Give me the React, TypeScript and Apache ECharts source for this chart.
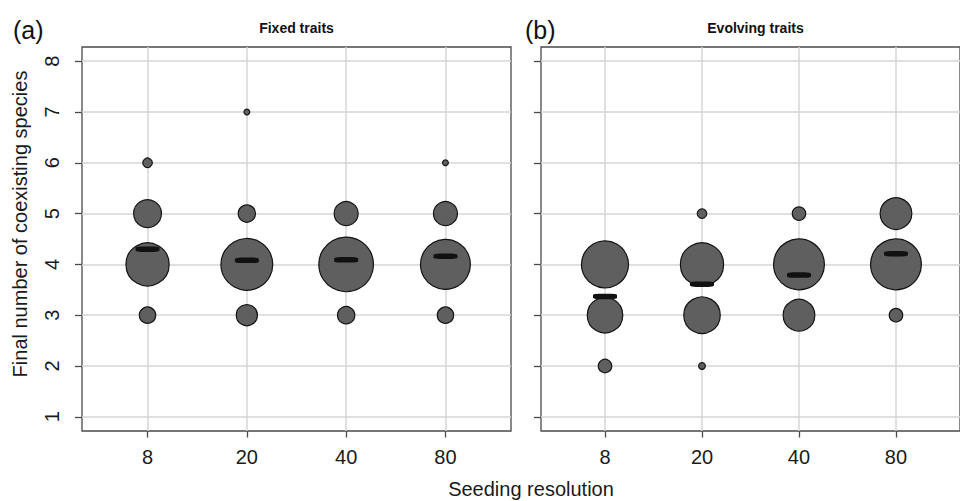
import React, { useEffect, useRef } from 'react';
import * as echarts from 'echarts';

// ---- data ----
const resolutions = ['8', '20', '40', '80'];
const speciesTicks = [1, 2, 3, 4, 5, 6, 7, 8];
const resolutionPositions = [1, 2, 3, 4];

// (a) Fixed traits: observed final species numbers and share of runs (%) per resolution
const fixedSpecies = [[6, 5, 4, 3], [7, 5, 4, 3], [5, 4, 3], [6, 5, 4, 3]];
const fixedShare = [[10, 29, 45, 17], [6, 18, 54, 22], [25, 57, 18], [6, 25, 52, 17]];
const fixedMean = [4.3, 4.08, 4.09, 4.16];

// (b) Evolving traits
const evolvingSpecies = [[4, 3, 2], [5, 4, 3, 2], [5, 4, 3], [5, 4, 3]];
const evolvingShare = [[49, 37, 14], [10, 45, 38, 7], [14, 53, 33], [33, 53, 14]];
const evolvingMean = [3.37, 3.61, 3.79, 4.21];

const panelTitles = ['Fixed traits', 'Evolving traits'];
const panelTags = ['(a)', '(b)'];
const xTitle = 'Seeding resolution';
const yTitle = 'Final number of coexisting species';

const FONT = '"Liberation Sans", Arial, Helvetica, sans-serif';

function buildPoints(species: number[][], share: number[][]) {
  const pts: number[][] = [];
  species.forEach((col, i) => {
    col.forEach((s, j) => {
      pts.push([resolutionPositions[i], s, share[i][j]]);
    });
  });
  return pts;
}

export default function App() {
  const ref = useRef<HTMLDivElement>(null);

  useEffect(() => {
    if (!ref.current) return;
    const chart = echarts.init(ref.current, undefined, { renderer: 'svg' });

    const gridLefts = [82, 541];
    const gridW = 429;
    const gridTop = 47;
    const gridH = 384;

    const grids = gridLefts.map((l) => ({
      left: l,
      top: gridTop,
      width: gridW,
      height: gridH,
      show: true,
      borderColor: '#4a4a4a',
      borderWidth: 1.3,
      backgroundColor: 'transparent',
    }));

    const xAxes = [0, 1].map((g) => ({
      type: 'value',
      gridIndex: g,
      min: 0.34,
      max: 4.66,
      axisLine: { show: false },
      axisTick: {
        show: true,
        length: 6.5,
        customValues: resolutionPositions,
        lineStyle: { color: '#4a4a4a', width: 1.3 },
      },
      axisLabel: {
        show: true,
        customValues: resolutionPositions,
        formatter: (v: number) => resolutions[Math.round(v) - 1] ?? '',
        fontSize: 20,
        color: '#1a1a1a',
        margin: 16,
        fontFamily: FONT,
      },
      splitLine: { show: true, lineStyle: { color: '#d6d6d6', width: 1.5 } },
    }));

    const yAxes = [0, 1].map((g) => ({
      type: 'value',
      gridIndex: g,
      min: 0.72,
      max: 8.28,
      axisLine: { show: false },
      axisTick: {
        show: true,
        length: 7,
        customValues: speciesTicks,
        lineStyle: { color: '#4a4a4a', width: 1.3 },
      },
      axisLabel: {
        show: g === 0,
        customValues: speciesTicks,
        rotate: 90,
        fontSize: 20,
        color: '#1a1a1a',
        margin: 20,
        fontFamily: FONT,
      },
      splitLine: { show: true, lineStyle: { color: '#d6d6d6', width: 1.5 } },
    }));

    const circleStyle = {
      color: '#5f5f5f',
      borderColor: '#141414',
      borderWidth: 1.2,
      opacity: 1,
    };
    const meanStyle = { color: '#111111', opacity: 1 };

    const panels = [
      { species: fixedSpecies, share: fixedShare, mean: fixedMean },
      { species: evolvingSpecies, share: evolvingShare, mean: evolvingMean },
    ];

    const series: any[] = [];
    panels.forEach((p, g) => {
      series.push({
        type: 'scatter',
        xAxisIndex: g,
        yAxisIndex: g,
        data: buildPoints(p.species, p.share),
        symbol: 'circle',
        symbolSize: (v: number[]) => v[2] * 0.96,
        itemStyle: circleStyle,
        silent: true,
        z: 2,
      });
      series.push({
        type: 'scatter',
        xAxisIndex: g,
        yAxisIndex: g,
        data: p.mean.map((m, i) => [resolutionPositions[i], m]),
        symbol: 'roundRect',
        symbolSize: [24, 5.5],
        itemStyle: meanStyle,
        silent: true,
        z: 3,
      });
    });

    const graphic: any[] = [];
    gridLefts.forEach((l, g) => {
      graphic.push({
        type: 'text',
        x: l + gridW / 2,
        y: 28,
        style: {
          text: panelTitles[g],
          fontSize: 14,
          fontWeight: 'bold',
          fontFamily: FONT,
          fill: '#111',
          textAlign: 'center',
          textVerticalAlign: 'middle',
        },
      });
    });
    graphic.push({
      type: 'text',
      x: 13,
      y: 30,
      style: {
        text: panelTags[0],
        fontSize: 25,
        fontFamily: FONT,
        fill: '#111',
        textAlign: 'left',
        textVerticalAlign: 'middle',
      },
    });
    graphic.push({
      type: 'text',
      x: 525,
      y: 30,
      style: {
        text: panelTags[1],
        fontSize: 25,
        fontFamily: FONT,
        fill: '#111',
        textAlign: 'left',
        textVerticalAlign: 'middle',
      },
    });
    graphic.push({
      type: 'text',
      x: 20,
      y: 224,
      rotation: Math.PI / 2,
      style: {
        text: yTitle,
        fontSize: 20,
        fontFamily: FONT,
        fill: '#1a1a1a',
        textAlign: 'center',
        textVerticalAlign: 'middle',
      },
    });
    graphic.push({
      type: 'text',
      x: 531,
      y: 489,
      style: {
        text: xTitle,
        fontSize: 20,
        fontFamily: FONT,
        fill: '#1a1a1a',
        textAlign: 'center',
        textVerticalAlign: 'middle',
      },
    });

    chart.setOption({
      animation: false,
      backgroundColor: '#ffffff',
      textStyle: { fontFamily: FONT },
      grid: grids,
      xAxis: xAxes,
      yAxis: yAxes,
      series,
      graphic,
    });

    return () => {
      chart.dispose();
    };
  }, []);

  return (
    <div
      ref={ref}
      style={{ position: 'fixed', left: 0, top: 0, width: 960, height: 501, background: '#fff' }}
    />
  );
}
